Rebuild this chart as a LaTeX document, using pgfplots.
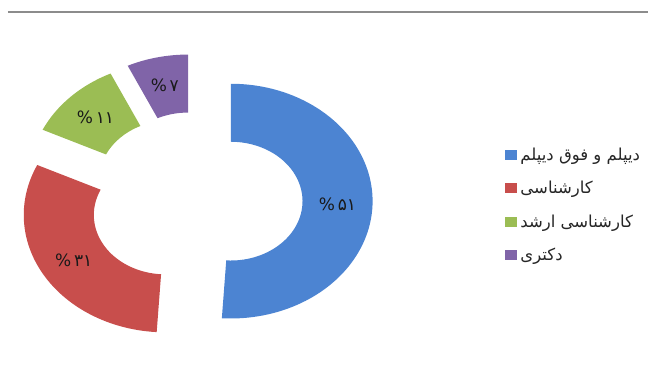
\documentclass[border=0pt]{standalone}
\usepackage{pgfplots}
\pgfplotsset{compat=1.18}
\usepackage{pgfplotstable}
\usepackage{fontspec}
\newfontfamily\arabicfont[Script=Arabic]{DejaVu Sans}
\TeXXeTstate=1
\definecolor{sl0}{RGB}{76,132,210}
\definecolor{sl1}{RGB}{200,78,76}
\definecolor{sl2}{RGB}{155,189,84}
\definecolor{sl3}{RGB}{128,100,168}
\definecolor{topline}{RGB}{140,140,140}

\pgfplotstableread{
value
51
31
11
7
}\datatable
% Persian digits for the slice labels
\newcommand\fadigits[1]{\fadigitsA#1\relax}
\def\fadigitsA#1#2\relax{\ifcase#1 ۰\or ۱\or ۲\or ۳\or ۴\or ۵\or ۶\or ۷\or ۸\or ۹\fi\if\relax\detokenize{#2}\relax\else\fadigitsA#2\relax\fi}

\begin{document}
\begin{tikzpicture}
\gdef\cum{0}
\foreach \i in {0,1,2,3}{
  \pgfplotstablegetelem{\i}{value}\of\datatable
  \let\val\pgfplotsretval
  \expandafter\xdef\csname fa\i\endcsname{\expandafter\fadigits\expandafter{\val}}
  \pgfmathsetmacro\angS{90-3.6*\cum}
  \pgfmathsetmacro\newcum{\cum+\val}
  \pgfmathsetmacro\angE{90-3.6*\newcum}
  \pgfmathsetmacro\angM{(\angS+\angE)/2}
  \pgfmathsetmacro\ox{0.247*cos(\angM)}
  \pgfmathsetmacro\oy{0.247*sin(\angM)}
  \pgfmathsetmacro\ax{\ox+cos(\angS)}
  \pgfmathsetmacro\ay{\oy+sin(\angS)}
  \pgfmathsetmacro\bx{\ox+0.506*cos(\angE)}
  \pgfmathsetmacro\by{\oy+0.506*sin(\angE)}
  \pgfmathsetmacro\lx{\ox+0.753*cos(\angM)}
  \pgfmathsetmacro\ly{\oy+0.753*sin(\angM)}
  \expandafter\xdef\csname sA\i\endcsname{\angS}
  \expandafter\xdef\csname eA\i\endcsname{\angE}
  \expandafter\xdef\csname ax\i\endcsname{\ax}
  \expandafter\xdef\csname ay\i\endcsname{\ay}
  \expandafter\xdef\csname bx\i\endcsname{\bx}
  \expandafter\xdef\csname by\i\endcsname{\by}
  \expandafter\xdef\csname lx\i\endcsname{\lx}
  \expandafter\xdef\csname ly\i\endcsname{\ly}
  \xdef\cum{\newcum}
}
\begin{axis}[
  x=142pt, y=117.5pt,
  xmin=-1.380, xmax=3.190, ymin=-1.587, ymax=1.706,
  hide axis, clip=false,
  legend style={at={(axis cs:2.176,0.468)}, anchor=north west, draw=none, fill=none,
    inner xsep=0pt, inner ysep=0pt, row sep=15.5pt,
    nodes={inner xsep=4.5pt},
    font=\arabicfont\fontsize{16.5}{18}\selectfont, text=black!85},
  legend cell align=left,
  legend image code/.code={\fill[#1] (0pt,-4.5pt) rectangle (11pt,4.5pt);},
]
\path (rel axis cs:0,0) rectangle (rel axis cs:1,1);
\draw[topline, line width=1.6pt] (rel axis cs:0.012,0.969) -- (rel axis cs:1,0.969);
\pgfplotsinvokeforeach{0,1,2,3}{
  \fill[sl#1] (axis cs:\csname ax#1\endcsname,\csname ay#1\endcsname)
    arc[start angle=\csname sA#1\endcsname, end angle=\csname eA#1\endcsname, x radius=142pt, y radius=117.5pt]
    -- (axis cs:\csname bx#1\endcsname,\csname by#1\endcsname)
    arc[start angle=\csname eA#1\endcsname, end angle=\csname sA#1\endcsname, x radius=71.85pt, y radius=59.46pt]
    -- cycle;
  \node[font=\arabicfont\fontsize{17}{17}\selectfont, text=black!90] at (axis cs:\csname lx#1\endcsname,\csname ly#1\endcsname) {\%\,\csname fa#1\endcsname};
}
\addlegendimage{sl0}
\addlegendentry{\beginR دیپلم و فوق دیپلم\endR}
\addlegendimage{sl1}
\addlegendentry{\beginR کارشناسی\endR}
\addlegendimage{sl2}
\addlegendentry{\beginR کارشناسی ارشد\endR}
\addlegendimage{sl3}
\addlegendentry{\beginR دکتری\endR}
\end{axis}
\end{tikzpicture}
\end{document}
